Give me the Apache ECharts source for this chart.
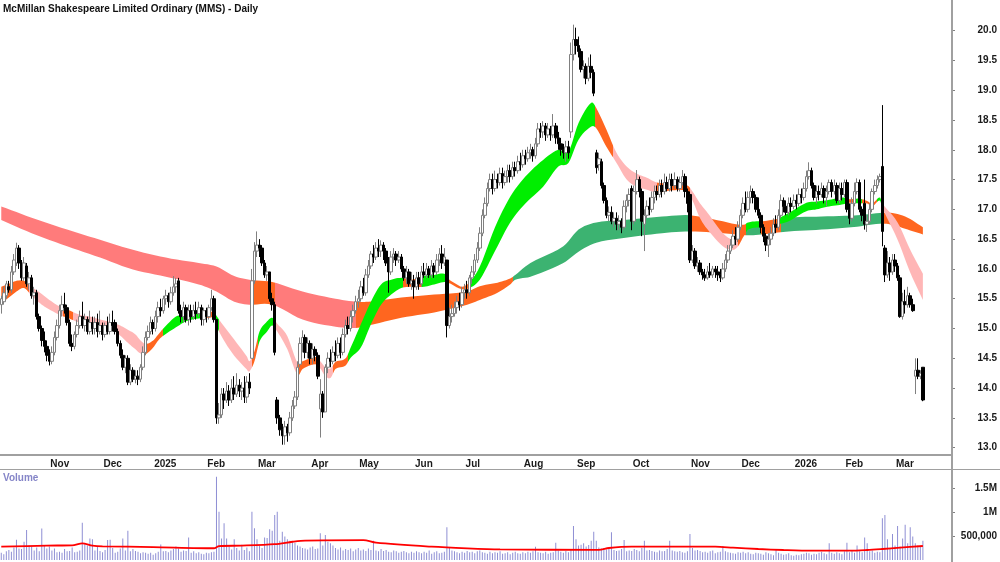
<!DOCTYPE html>
<html><head><meta charset="utf-8">
<script src="https://cdn.jsdelivr.net/npm/echarts@6/dist/echarts.min.js"></script>
<style>html,body{margin:0;padding:0;background:#fff}#c{width:1000px;height:562px}</style>
</head><body><div id="c"></div>
<script>
const FONT = '"Liberation Sans", Arial, sans-serif';
const titleText = 'McMillan Shakespeare Limited Ordinary (MMS) - Daily';
const volumeTitle = 'Volume';
const startDate = '2024-10-07';
const holidays = ['2024-12-25','2024-12-26','2025-01-01','2025-01-27','2025-04-18','2025-04-21','2025-04-25','2025-06-09','2025-12-25','2025-12-26','2026-01-01','2026-01-26'];
const emptySlots = 11;
const monthNames = ['Jan','Feb','Mar','Apr','May','Jun','Jul','Aug','Sep','Oct','Nov','Dec'];
const priceTicks = [13.0,13.5,14.0,14.5,15.0,15.5,16.0,16.5,17.0,17.5,18.0,18.5,19.0,19.5,20.0];
const volumeTicks = [500000, 1000000, 1500000];
const volumeTickLabels = {500000:'500,000', 1000000:'1M', 1500000:'1.5M'};

// daily bars: [open, close, low, high]
const oct24 = [[15.40,15.50,15.25,15.55],[15.45,15.60,15.40,15.70],[15.55,15.75,15.50,15.80],[15.70,15.65,15.60,15.80],[15.65,15.95,15.60,16.05],[15.95,16.15,15.90,16.25],[16.10,16.35,16.05,16.44],[16.35,16.10,16.00,16.40],[16.10,15.85,15.80,16.15],[15.85,16.10,15.80,16.20],[16.05,15.75,15.70,16.10],[15.75,15.85,15.65,15.95],[15.85,15.55,15.50,15.90],[15.55,15.60,15.40,15.70],[15.60,15.20,15.15,15.65],[15.20,15.00,14.95,15.25],[15.00,14.80,14.70,15.05],[14.80,14.70,14.60,14.95],[14.70,14.55,14.45,14.80]];
const nov24 = [[14.55,14.45,14.38,14.65],[14.45,14.60,14.40,14.70],[14.60,14.85,14.55,14.95],[14.85,15.05,14.80,15.15],[15.05,15.30,15.00,15.40],[15.30,15.40,15.20,15.55],[15.40,15.35,15.25,15.60],[15.35,15.10,15.05,15.40],[15.10,14.75,14.70,15.15],[14.75,14.70,14.62,14.90],[14.70,14.90,14.65,14.95],[14.90,15.05,14.85,15.15],[15.05,15.20,15.00,15.30],[15.20,15.05,15.00,15.45],[15.05,15.15,14.95,15.25],[15.15,14.95,14.90,15.20],[14.95,15.10,14.90,15.30],[15.10,15.00,14.90,15.20],[15.00,15.10,14.90,15.20],[15.10,14.95,14.85,15.25],[14.95,15.05,14.90,15.30]];
const dec24 = [[15.05,14.90,14.80,15.10],[14.90,15.05,14.85,15.10],[15.05,14.95,14.90,15.20],[14.95,15.10,14.90,15.25],[15.10,15.05,14.95,15.30],[15.10,14.95,14.90,15.15],[14.95,14.75,14.70,15.00],[14.75,14.55,14.50,14.80],[14.55,14.35,14.30,14.65],[14.35,14.50,14.25,14.55],[14.50,14.10,14.05,14.55],[14.10,14.30,14.05,14.40],[14.30,14.15,14.10,14.35],[14.15,14.20,14.08,14.30],[14.20,14.15,14.05,14.30],[14.15,14.35,14.10,14.40],[14.35,14.60,14.30,14.70],[14.60,14.85,14.55,14.95],[14.85,14.95,14.80,15.05],[14.95,15.10,14.90,15.20]];
const jan25 = [[15.10,15.00,14.90,15.15],[15.00,15.20,14.95,15.30],[15.20,15.35,15.10,15.45],[15.35,15.30,15.20,15.50],[15.30,15.50,15.25,15.55],[15.50,15.55,15.40,15.65],[15.55,15.45,15.35,15.60],[15.45,15.60,15.40,15.70],[15.60,15.70,15.55,15.88],[15.70,15.75,15.60,15.85],[15.80,15.30,15.25,15.85],[15.30,15.20,15.10,15.40],[15.20,15.35,15.10,15.45],[15.35,15.15,15.10,15.40],[15.15,15.30,15.05,15.40],[15.30,15.20,15.10,15.40],[15.20,15.30,15.15,15.40],[15.30,15.25,15.15,15.45],[15.25,15.35,15.20,15.45],[15.35,15.15,15.05,15.40],[15.15,15.30,15.05,15.35]];
const feb25 = [[15.30,15.20,15.10,15.35],[15.20,15.35,15.15,15.40],[15.35,15.50,15.30,15.65],[15.50,15.15,15.10,15.55],[15.15,13.50,13.40,15.15],[13.50,13.55,13.40,13.75],[13.55,13.90,13.50,14.00],[13.90,13.80,13.65,14.00],[13.80,13.95,13.75,14.10],[13.95,13.80,13.70,14.05],[13.80,14.00,13.75,14.15],[14.00,13.90,13.80,14.20],[13.90,14.05,13.85,14.25],[14.05,13.95,13.85,14.15],[13.95,14.00,13.80,14.10],[14.00,13.85,13.75,14.20],[13.85,14.10,13.75,14.20],[14.10,14.00,13.90,14.25],[14.50,15.80,14.50,16.00],[15.80,16.30,15.75,16.45]];
const mar25 = [[16.30,16.40,16.20,16.63],[16.40,16.35,16.20,16.50],[16.35,16.10,16.05,16.40],[16.10,15.90,15.85,16.15],[15.90,15.95,15.80,16.05],[15.95,15.50,15.45,15.95],[15.50,15.40,15.30,15.60],[15.40,14.60,14.55,15.45],[13.80,13.50,13.40,13.85],[13.50,13.30,13.20,13.55],[13.30,13.20,13.05,13.40],[13.20,13.35,13.05,13.45],[13.35,13.25,13.10,13.40],[13.25,13.50,13.20,13.60],[13.50,13.70,13.45,13.80],[13.70,13.85,13.65,13.95],[13.85,14.35,13.80,14.45],[14.40,14.75,14.35,14.85],[14.75,14.85,14.60,14.97],[14.85,14.60,14.50,14.90],[14.60,14.75,14.50,14.85]];
const apr25 = [[14.75,14.50,14.40,14.80],[14.50,14.65,14.40,14.75],[14.65,14.55,14.45,14.70],[14.55,14.20,14.15,14.60],[13.65,13.90,13.17,14.15],[13.90,13.60,13.50,13.95],[13.60,14.35,13.60,14.40],[14.35,14.50,14.25,14.60],[14.50,14.45,14.35,14.65],[14.45,14.60,14.40,14.70],[14.60,14.55,14.45,14.80],[14.55,14.75,14.50,14.85],[14.75,14.60,14.50,14.85],[14.60,14.90,14.55,15.00],[14.90,15.05,14.85,15.15],[15.05,15.00,14.90,15.20],[15.00,15.20,14.95,15.30],[15.20,15.30,15.10,15.40],[15.30,15.45,15.25,15.55]];
const may25 = [[15.45,15.50,15.35,15.65],[15.50,15.70,15.45,15.80],[15.70,15.60,15.55,15.85],[15.60,15.90,15.55,16.00],[15.90,16.05,15.85,16.15],[16.05,16.25,16.00,16.30],[16.25,16.20,16.10,16.40],[16.20,16.35,16.15,16.45],[16.35,16.30,16.20,16.50],[16.30,16.40,16.20,16.48],[16.40,16.30,16.15,16.45],[16.30,16.10,16.05,16.35],[16.10,15.95,15.60,16.20],[15.95,16.20,15.90,16.30],[16.20,16.25,16.10,16.35],[16.25,16.15,16.05,16.30],[16.15,16.20,16.10,16.30],[16.20,16.00,15.95,16.25],[16.00,15.85,15.80,16.05],[15.85,15.95,15.75,16.05],[15.95,15.75,15.70,16.00],[15.75,15.80,15.65,15.95]];
const jun25 = [[15.80,15.70,15.50,15.90],[15.70,15.85,15.65,15.95],[15.85,15.75,15.65,15.95],[15.75,15.95,15.70,16.05],[15.95,15.90,15.85,16.10],[15.90,16.00,15.85,16.10],[16.00,15.90,15.85,16.05],[15.90,16.05,15.85,16.15],[16.05,15.95,15.85,16.10],[15.95,16.15,15.90,16.25],[16.15,16.25,16.05,16.35],[16.25,16.10,16.00,16.40],[16.10,16.20,16.05,16.35],[16.15,15.05,14.85,16.15],[15.05,15.20,15.00,15.35],[15.20,15.25,15.10,15.40],[15.25,15.35,15.20,15.45],[15.35,15.45,15.25,15.55],[15.45,15.40,15.30,15.60],[15.40,15.60,15.35,15.70]];
const jul25 = [[15.60,15.65,15.50,15.75],[15.65,15.60,15.50,15.80],[15.60,15.85,15.55,15.90],[15.85,15.95,15.75,16.05],[15.95,16.15,15.90,16.25],[16.15,16.35,16.10,16.45],[16.35,16.60,16.30,16.70],[16.60,16.90,16.55,17.00],[16.90,17.10,16.85,17.20],[17.10,17.35,17.05,17.45],[17.35,17.50,17.30,17.60],[17.50,17.35,17.25,17.60],[17.35,17.50,17.30,17.65],[17.50,17.45,17.35,17.60],[17.45,17.60,17.40,17.70],[17.60,17.45,17.35,17.70],[17.45,17.55,17.40,17.65],[17.55,17.65,17.45,17.75],[17.65,17.55,17.45,17.75],[17.55,17.70,17.50,17.80],[17.70,17.65,17.55,17.80],[17.65,17.80,17.60,17.90],[17.80,17.75,17.65,17.95]];
const aug25 = [[17.75,17.90,17.70,18.00],[17.90,17.85,17.75,18.00],[17.85,17.95,17.80,18.05],[17.95,18.00,17.85,18.10],[18.00,17.90,17.80,18.05],[17.90,18.10,17.85,18.20],[18.10,18.35,18.05,18.45],[18.35,18.30,18.20,18.45],[18.30,18.40,18.20,18.48],[18.40,18.25,18.15,18.45],[18.25,18.35,18.20,18.45],[18.35,18.25,18.15,18.40],[18.25,18.40,18.20,18.60],[18.40,18.20,18.10,18.45],[18.20,18.10,18.00,18.30],[18.10,18.00,17.90,18.20],[18.00,17.95,17.85,18.10],[17.95,18.05,17.80,18.15],[18.05,17.95,17.85,18.15],[18.30,19.60,18.20,19.80],[19.60,19.85,19.50,20.10]];
const sep25 = [[19.85,19.75,19.60,20.05],[19.75,19.65,19.55,19.90],[19.65,19.35,19.30,19.70],[19.35,19.40,19.20,19.50],[19.40,19.20,19.10,19.45],[19.20,19.40,19.15,19.55],[19.40,19.30,19.20,19.60],[19.30,18.95,18.90,19.35],[17.95,17.70,17.60,18.00],[17.75,17.85,17.65,17.95],[17.80,17.40,17.35,17.85],[17.40,17.15,17.10,17.45],[17.15,16.90,16.85,17.20],[16.90,16.95,16.80,17.05],[16.95,16.80,16.75,17.05],[16.80,16.85,16.70,16.95],[16.85,16.75,16.65,16.95],[16.75,16.80,16.65,16.90],[16.80,16.70,16.60,16.85],[16.70,17.05,16.65,17.15],[17.05,17.15,16.95,17.25],[17.15,17.25,17.05,17.35]];
const oct25 = [[17.35,16.80,16.65,17.40],[16.80,17.30,16.75,17.40],[17.30,17.50,17.25,17.66],[17.50,17.30,17.20,17.55],[17.30,16.80,16.55,17.35],[16.75,16.90,16.30,17.00],[16.90,17.05,16.85,17.15],[17.05,17.00,16.90,17.20],[17.00,17.20,16.95,17.30],[17.20,17.30,17.10,17.40],[17.30,17.25,17.15,17.40],[17.25,17.40,17.20,17.50],[17.40,17.30,17.20,17.50],[17.30,17.45,17.25,17.60],[17.45,17.35,17.30,17.55],[17.35,17.50,17.30,17.60],[17.50,17.40,17.30,17.60],[17.40,17.50,17.35,17.62],[17.50,17.35,17.30,17.55],[17.35,17.45,17.30,17.55],[17.45,17.55,17.40,17.66],[17.55,17.30,17.20,17.60],[17.30,17.10,16.95,17.35]];
const nov25 = [[17.25,16.15,16.10,17.30],[16.15,16.30,16.10,16.40],[16.30,16.05,16.00,16.35],[16.05,16.10,15.95,16.20],[16.10,15.95,15.90,16.15],[15.95,15.90,15.82,16.00],[15.90,15.85,15.80,16.00],[15.85,15.95,15.82,16.05],[15.95,15.90,15.85,16.10],[15.90,16.00,15.85,16.05],[16.00,15.95,15.85,16.05],[15.95,15.90,15.80,16.05],[15.90,15.85,15.78,16.00],[15.85,16.00,15.82,16.10],[16.00,16.15,15.95,16.25],[16.15,16.30,16.10,16.40],[16.30,16.40,16.25,16.50],[16.40,16.55,16.35,16.65],[16.55,16.50,16.40,16.70],[16.50,16.70,16.45,16.80]];
const dec25 = [[16.70,16.90,16.65,17.00],[16.90,17.10,16.85,17.20],[17.10,17.00,16.95,17.30],[17.00,17.20,16.95,17.30],[17.20,17.30,17.10,17.40],[17.30,17.20,17.10,17.35],[17.20,17.00,16.95,17.25],[17.00,16.90,16.85,17.20],[16.90,16.70,16.60,16.95],[16.70,16.55,16.45,16.75],[16.55,16.40,16.30,16.60],[16.40,16.50,16.20,16.60],[16.50,16.60,16.40,16.70],[16.60,16.75,16.55,16.85],[16.75,16.70,16.60,16.90],[16.70,16.90,16.65,17.00],[16.90,17.15,16.85,17.25],[17.15,17.05,16.95,17.20],[17.05,16.95,16.90,17.15],[16.95,17.10,16.90,17.20],[17.10,17.05,16.95,17.20]];
const jan26 = [[17.05,17.15,17.00,17.25],[17.15,17.10,17.00,17.25],[17.10,17.25,17.05,17.35],[17.25,17.20,17.10,17.35],[17.20,17.35,17.15,17.45],[17.35,17.55,17.30,17.65],[17.55,17.65,17.50,17.79],[17.65,17.40,17.35,17.70],[17.40,17.20,17.15,17.45],[17.20,17.30,17.10,17.40],[17.30,17.25,17.15,17.40],[17.25,17.35,17.20,17.45],[17.35,17.20,17.10,17.40],[17.20,17.30,17.05,17.40],[17.30,17.45,17.25,17.50],[17.45,17.30,17.20,17.50],[17.30,17.40,17.25,17.50],[17.40,17.15,17.10,17.45],[17.15,17.35,17.10,17.45],[17.35,17.25,17.15,17.45]];
const feb26 = [[17.25,17.45,17.20,17.50],[17.45,17.00,16.95,17.50],[17.00,16.85,16.75,17.10],[16.85,17.10,16.80,17.20],[17.10,17.30,17.05,17.45],[17.30,17.45,17.25,17.52],[17.45,17.00,16.95,17.50],[17.00,16.90,16.80,17.05],[17.10,16.75,16.66,17.50],[16.75,16.80,16.62,16.90],[16.80,17.00,16.75,17.10],[17.00,17.30,16.95,17.35],[17.30,17.40,17.25,17.50],[17.40,17.50,17.35,17.57],[17.50,17.55,17.45,17.60],[17.72,16.63,16.38,18.75],[16.35,15.90,15.78,16.40],[15.90,16.10,15.85,16.30],[16.10,15.95,15.80,16.20],[15.95,16.15,15.90,16.25]];
const mar26 = [[16.15,16.05,15.95,16.25],[16.05,15.85,15.80,16.10],[15.85,15.20,15.18,15.90],[15.20,15.45,15.15,15.60],[15.45,15.40,15.25,15.65],[15.40,15.55,15.35,15.70],[15.55,15.40,15.35,15.60],[15.40,15.30,15.28,15.50],[14.20,14.30,13.90,14.50],[14.30,14.20,14.15,14.50],[14.20,14.25,14.15,14.30],[14.35,13.80,13.78,14.35]];

// daily volume, thousands of shares
const volOct24 = [150,120,180,210,170,260,420,240,230,380,625,300,280,200,260,180,655,290,240];
const volNov24 = [280,200,240,160,170,150,230,180,190,260,160,170,200,778,350,300,450,430,200,280,190];
const volDec24 = [160,210,417,420,250,150,170,240,450,200,611,180,230,190,170,140,160,150,130,150];
const volJan25 = [110,140,170,325,180,190,160,200,230,280,240,170,200,190,470,150,180,140,160,130,120];
const volFeb25 = [150,140,160,170,1736,1007,450,764,450,280,220,430,250,200,320,210,260,180,1007,660];
const volMar25 = [430,300,250,470,460,639,611,938,1007,400,590,490,430,400,380,360,300,280,250,240,220];
const volApr25 = [260,280,230,240,556,300,521,380,350,300,250,220,260,200,230,210,240,180,220];
const volMay25 = [250,200,220,190,240,210,403,200,180,230,190,210,170,160,200,180,150,170,190,160,140,170];
const volJun25 = [150,180,160,140,170,150,200,130,160,180,140,150,170,681,250,200,180,160,140,170];
const volJul25 = [150,190,160,170,140,180,200,160,150,130,170,140,160,150,180,130,140,160,120,150,170,140,130];
const volAug25 = [160,140,170,150,180,277,160,150,140,170,130,150,160,361,200,170,150,190,160,220,708];
const volSep25 = [430,300,320,350,280,310,403,590,403,260,240,250,220,230,576,210,190,200,230,417,180,200];
const volOct25 = [190,230,210,180,250,403,200,210,190,170,160,200,180,190,230,403,200,180,170,190,160,150,180];
const volNov25 = [542,250,200,210,190,160,170,150,180,200,140,160,170,290,180,160,150,140,130,160];
const volDec25 = [150,170,140,160,130,120,150,140,130,110,160,140,120,100,230,150,130,110,120,140,100];
const volJan26 = [90,110,100,120,130,150,140,110,130,120,150,170,140,120,347,150,130,160,140,120];
const volFeb26 = [180,361,160,200,150,300,180,160,470,350,180,200,150,170,160,868,938,430,250,542];
const volMar26 = [300,708,280,450,736,350,680,487,350,300,280,403];

// short-term moving-average ribbon (read at bar indices)
const shortIdx = [0,3,6,9,12,16,19,23,26,31,35,39,44,47,50,53,55,57,60,62,64,69,73,78,82,84,86,91,97,98,100,102,105,107,109,113,117,119,124,126,128,130,132,136,138,142,146,150,154,158,162,167,171,175,177,180,182,185,189,195,201,207,214,220,224,228,233,235,239,243,247,251,255,259,265,271,273,276,279,285,289,291,293,295,300,303,307,311,318,322,327,332,335,339,342,344,347,348,354,359,364];
const shortHi = [15.70,15.75,15.80,15.80,15.70,15.58,15.48,15.37,15.32,15.23,15.20,15.15,15.10,15.05,14.98,14.90,14.80,14.74,14.80,14.90,15.00,15.20,15.23,15.28,15.28,15.27,15.15,14.87,14.53,14.45,14.62,14.95,15.12,15.18,15.08,14.87,14.42,14.45,14.52,14.45,14.35,14.33,14.44,14.50,14.68,15.07,15.45,15.74,15.82,15.85,15.82,15.88,15.90,15.92,15.82,15.74,15.70,15.78,16.04,16.70,17.21,17.55,17.83,18.00,17.97,18.45,18.79,18.70,18.34,17.95,17.72,17.60,17.53,17.45,17.43,17.40,17.30,17.10,16.94,16.60,16.49,16.55,16.71,16.78,16.80,16.78,16.85,16.94,17.11,17.13,17.16,17.20,17.17,17.18,17.14,17.10,17.20,17.10,16.78,16.32,15.92];
const shortLo = [15.42,15.52,15.62,15.68,15.55,15.40,15.32,15.23,15.18,15.10,15.07,15.03,14.97,14.88,14.76,14.65,14.58,14.57,14.68,14.80,14.88,15.02,15.12,15.17,15.18,15.17,14.95,14.60,14.31,14.28,14.45,14.78,14.95,15.05,14.95,14.65,14.22,14.32,14.40,14.33,14.20,14.17,14.32,14.38,14.51,14.68,15.07,15.40,15.57,15.68,15.70,15.70,15.74,15.78,15.76,15.69,15.66,15.68,15.82,16.30,16.78,17.10,17.38,17.72,17.78,18.17,18.39,18.36,18.05,17.78,17.50,17.38,17.33,17.28,17.32,17.30,17.15,16.85,16.66,16.38,16.32,16.38,16.53,16.66,16.70,16.70,16.75,16.80,16.97,17.00,17.05,17.08,17.11,17.10,17.10,17.05,17.15,17.02,16.49,15.94,15.48];
// [from bar, to bar, state]
const shortStates = [[-1,11,'mix'],[11,24.5,'down'],[24.5,28.5,'mix'],[28.5,57,'down'],[57,64,'mix'],[64,81,'up'],[81,84,'mix'],[84,86,'up'],[86,99,'down'],[99,101.5,'mix'],[101.5,108,'up'],[108,117,'down'],[117,125,'mix'],[125,131,'down'],[131,137,'mix'],[137,158.5,'up'],[158.5,166,'mix'],[166,176,'up'],[176,185,'mix'],[185,234.5,'up'],[234.5,241.5,'mix'],[241.5,259,'down'],[259,272,'mix'],[272,291,'down'],[291,294,'mix'],[294,300,'up'],[300,307,'mix'],[307,334,'up'],[334,337,'mix'],[337,340,'up'],[340,346,'mix'],[346,348,'up'],[348,377,'down']];

// long-term moving-average ribbon
const longIdx = [0,12,26,39,52,65,78,85,92,98,107,119,132,140,145,158,171,184,189,196,201,203,209,222,228,235,248,261,272,285,292,298,311,324,338,347,352,358,364];
const longHi = [17.05,16.86,16.66,16.49,16.32,16.19,16.10,16.04,15.88,15.82,15.78,15.62,15.50,15.45,15.45,15.52,15.57,15.62,15.71,15.77,15.84,15.90,16.10,16.38,16.66,16.78,16.83,16.88,16.90,16.80,16.74,16.78,16.86,16.88,16.90,16.94,16.94,16.86,16.70];
const longLo = [16.82,16.60,16.38,16.19,15.99,15.87,15.74,15.62,15.45,15.40,15.40,15.15,15.03,15.01,15.05,15.18,15.27,15.40,15.48,15.60,15.74,15.82,15.87,16.10,16.29,16.44,16.53,16.60,16.63,16.60,16.57,16.57,16.63,16.66,16.71,16.76,16.74,16.66,16.58];
const longStates = [[-1,99,'down'],[99,108,'mix'],[108,140,'down'],[140,202,'mix'],[202,272,'up'],[272,294,'mix'],[294,300,'up'],[300,308,'mix'],[308,348,'up'],[348,377,'mix']];

// volume moving average (thousands)
const vmaIdx = [0,18,28,32,36,40,60,84,86,95,108,115,120,143,148,170,184,197,236,240,249,282,289,299,309,320,335,342,348,355,364];
const vmaVal = [278,300,305,345,300,285,270,245,290,300,330,380,405,415,360,277,243,222,210,250,277,277,257,229,208,194,194,208,229,257,292];

const shortColors = {up:'#00ee00', mix:'#ff661f', down:'#ffb6b6'};
const longColors = {up:'#3cb371', mix:'#ff661f', down:'#ff7b7b'};

const ohlc = [].concat(oct24,nov24,dec24,jan25,feb25,mar25,apr25,may25,jun25,jul25,aug25,sep25,oct25,nov25,dec25,jan26,feb26,mar26);
const volume = [].concat(volOct24,volNov24,volDec24,volJan25,volFeb25,volMar25,volApr25,volMay25,volJun25,volJul25,volAug25,volSep25,volOct25,volNov25,volDec25,volJan26,volFeb26,volMar26).map(v => v * 1000);

function tradingDays(start, n) {
  const out = []; const d = new Date(start + 'T00:00:00Z');
  while (out.length < n) {
    const dow = d.getUTCDay(); const s = d.toISOString().slice(0, 10);
    if (dow !== 0 && dow !== 6 && holidays.indexOf(s) < 0) out.push(s);
    d.setUTCDate(d.getUTCDate() + 1);
  }
  return out;
}
const dates = tradingDays(startDate, ohlc.length);
const categories = dates.concat(Array.from({length: emptySlots}, (_, k) => 'pad' + k));
const nCat = categories.length;
const monthStart = new Set();
for (let i = 1; i < dates.length; i++) if (dates[i].slice(5, 7) !== dates[i - 1].slice(5, 7)) monthStart.add(i);
const isMonthStart = (i) => monthStart.has(i);
const monthLabel = (v) => { if (!/^\d{4}-/.test(v)) return ''; const m = +v.slice(5, 7); return m === 1 ? v.slice(0, 4) : monthNames[m - 1]; };

const pxTop = 20.514, pxBottom = 12.877;

// smooth x-monotone curve through screen points (drawing only)
function smoothCurve(pts, steps) {
  const n = pts.length, m = [];
  for (let i = 0; i < n; i++) {
    const a = pts[Math.max(0, i - 1)], b = pts[Math.min(n - 1, i + 1)];
    m.push(b[0] === a[0] ? 0 : (b[1] - a[1]) / (b[0] - a[0]));
  }
  const out = [pts[0]];
  for (let i = 0; i < n - 1; i++) {
    const p = pts[i], q = pts[i + 1], dx = q[0] - p[0];
    for (let s = 1; s <= steps; s++) {
      const t = s / steps, t2 = t * t, t3 = t2 * t;
      const h00 = 2 * t3 - 3 * t2 + 1, h10 = t3 - 2 * t2 + t, h01 = -2 * t3 + 3 * t2, h11 = t3 - t2;
      out.push([p[0] + dx * t, h00 * p[1] + h10 * dx * m[i] + h01 * q[1] + h11 * dx * m[i + 1]]);
    }
  }
  return out;
}
function bandRenderer(idx, hi, lo, states, colors) {
  return function (params, api) {
    const up = smoothCurve(idx.map((x, k) => api.coord([x, hi[k]])), 6);
    const dn = smoothCurve(idx.map((x, k) => api.coord([x, lo[k]])), 6).reverse();
    const x0 = api.coord([-0.5, 15])[0], x1 = api.coord([nCat - 0.5, 15])[0];
    const stops = [];
    states.forEach(s => {
      const a = Math.max(0, Math.min(1, (api.coord([s[0], 15])[0] - x0) / (x1 - x0)));
      const b = Math.max(0, Math.min(1, (api.coord([s[1], 15])[0] - x0) / (x1 - x0)));
      stops.push({offset: a, color: colors[s[2]]}, {offset: b, color: colors[s[2]]});
    });
    return {type: 'polygon', shape: {points: up.concat(dn)}, silent: true,
            style: {fill: new echarts.graphic.LinearGradient(x0, 0, x1, 0, stops, true), stroke: null}};
  };
}

const labelStyle = {fontFamily: FONT, fontWeight: 'bold', fontSize: 10, color: '#1a1a1a'};
const hiddenValueX = (g) => ({type: 'value', gridIndex: g, min: -0.5, max: nCat - 0.5, show: false});

const chart = echarts.init(document.getElementById('c'), null, {renderer: 'canvas'});
chart.setOption({
  animation: false,
  backgroundColor: '#ffffff',
  title: [{text: titleText, left: 3, top: 4, padding: 0, textStyle: {fontFamily: FONT, fontWeight: 'bold', fontSize: 10, color: '#111'}},
          {text: volumeTitle, left: 3, top: 473, padding: 0, textStyle: {fontFamily: FONT, fontWeight: 'bold', fontSize: 10, color: '#8585c8'}}],
  grid: [{left: 0, top: 0, width: 952, height: 455}, {left: 0, top: 470, width: 952, height: 90}],
  xAxis: [
    {type: 'category', gridIndex: 0, data: categories, boundaryGap: true,
     axisLine: {lineStyle: {color: '#a0a0a0', width: 2}},
     axisTick: {alignWithLabel: true, interval: isMonthStart, length: 4, lineStyle: {color: '#808080'}},
     axisLabel: Object.assign({interval: isMonthStart, formatter: monthLabel, align: 'left', margin: 4, padding: [0, 0, 0, 1]}, labelStyle),
     splitLine: {show: false}},
    hiddenValueX(0),
    {type: 'category', gridIndex: 1, data: categories, boundaryGap: true, show: false},
    hiddenValueX(1)
  ],
  yAxis: [
    {type: 'value', gridIndex: 0, position: 'right', min: pxBottom, max: pxTop, splitNumber: 15,
     axisLine: {show: false, onZero: false}, splitLine: {show: false},
     axisTick: {show: true, length: 3, customValues: priceTicks, lineStyle: {color: '#808080'}},
     axisLabel: Object.assign({align: 'right', margin: 45, customValues: priceTicks, formatter: v => (v > 12.95 && v < 20.05) ? v.toFixed(1) : ''}, labelStyle)},
    {type: 'value', gridIndex: 1, position: 'right', min: 0, max: 1875000, interval: 500000,
     axisLine: {show: false, onZero: false}, splitLine: {show: false},
     axisTick: {show: true, length: 3, customValues: volumeTicks, lineStyle: {color: '#808080'}},
     axisLabel: Object.assign({align: 'right', margin: 45, customValues: volumeTicks, formatter: v => volumeTickLabels[v] || ''}, labelStyle)}
  ],
  graphic: [
    {type: 'line', z: 100, shape: {x1: 952, y1: 0, x2: 952, y2: 562}, style: {stroke: '#a0a0a0', lineWidth: 2}},
    {type: 'line', z: 100, shape: {x1: 0, y1: 469.5, x2: 1000, y2: 469.5}, style: {stroke: '#a0a0a0', lineWidth: 1}}
  ],
  series: [
    {name: 'longBand', type: 'custom', xAxisIndex: 1, yAxisIndex: 0, data: [[0, 15]], renderItem: bandRenderer(longIdx, longHi, longLo, longStates, longColors), silent: true, z: 1},
    {name: 'shortBand', type: 'custom', xAxisIndex: 1, yAxisIndex: 0, data: [[0, 15]], renderItem: bandRenderer(shortIdx, shortHi, shortLo, shortStates, shortColors), silent: true, z: 2},
    {name: 'MMS', type: 'candlestick', xAxisIndex: 0, yAxisIndex: 0, data: ohlc, barWidth: 3, z: 5,
     itemStyle: {color: '#ffffff', color0: '#000000', borderColor: '#808080', borderColor0: '#000000', borderWidth: 1}},
    {name: 'Volume', type: 'bar', xAxisIndex: 2, yAxisIndex: 1, data: volume, barWidth: 1, itemStyle: {color: '#8f8fd4'}, silent: true},
    {name: 'VolMA', type: 'line', xAxisIndex: 3, yAxisIndex: 1, data: vmaIdx.map((x, k) => [x, vmaVal[k] * 1000]), symbol: 'none', smooth: 0.3, lineStyle: {color: '#ff0000', width: 1.8}, silent: true, z: 4}
  ]
});
</script></body></html>
